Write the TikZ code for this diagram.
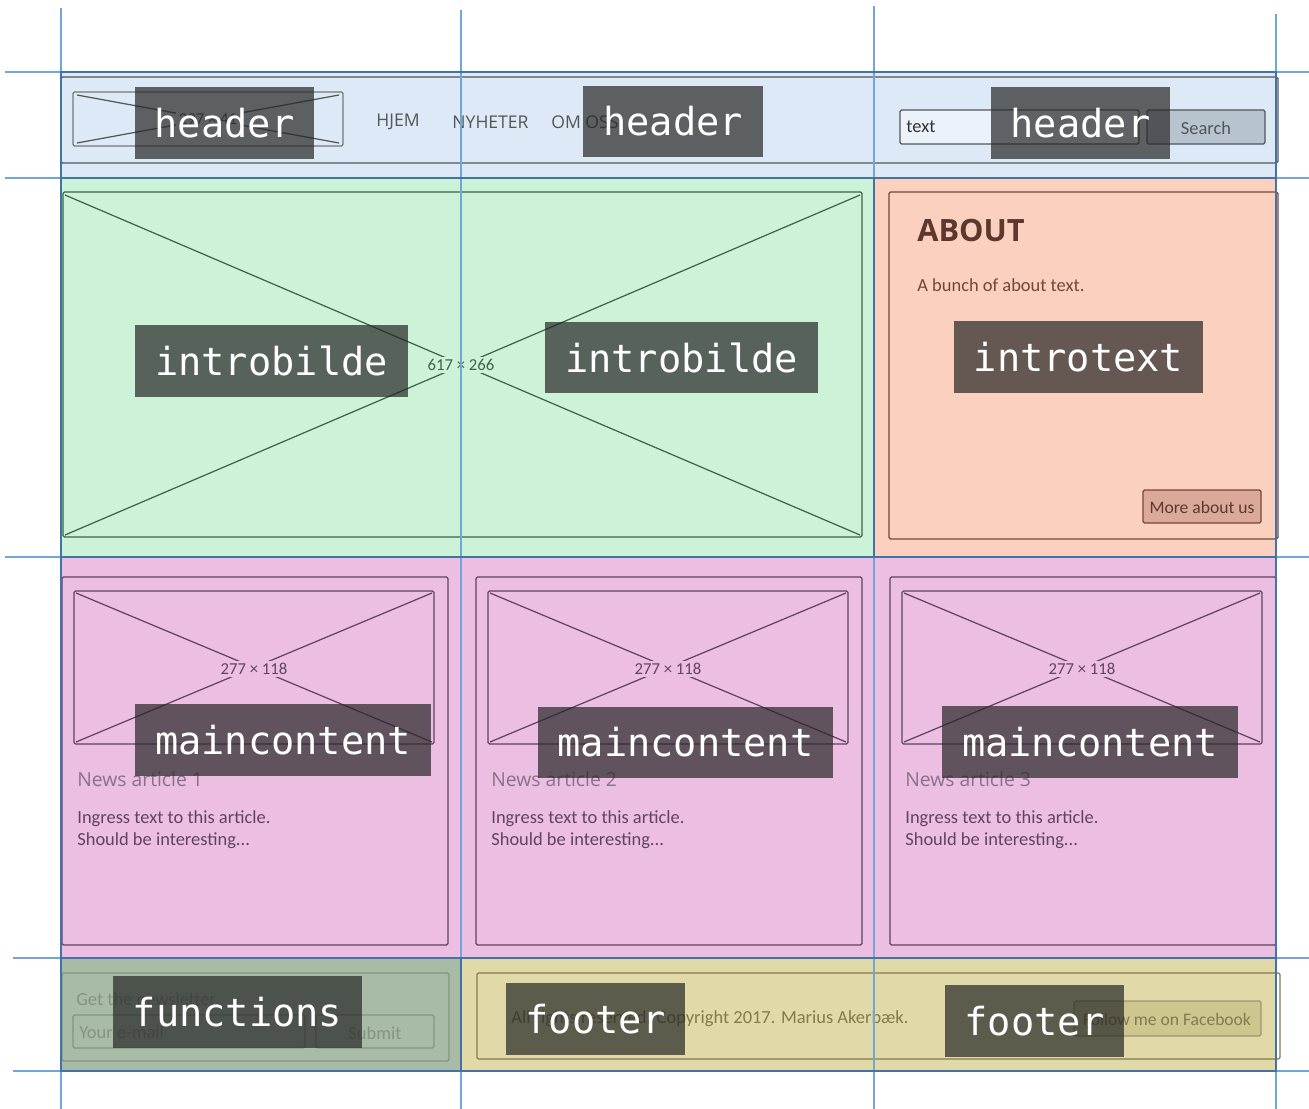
\documentclass[tikz,border=0pt]{standalone}
\usepackage{fontspec}
\usepackage{tikz}
\usetikzlibrary{positioning, calc}
\newfontfamily\uifont{Open Sans}
\newfontfamily\sketchfont{Carlito}
\newfontfamily\tagfont{DejaVu Sans Mono}
\definecolor{gridblue}{HTML}{72A5DA}
\definecolor{areablue}{HTML}{4373A6}
\definecolor{headbg}{HTML}{DDE9F6}
\definecolor{introbg}{HTML}{CCF2D8}
\definecolor{aboutbg}{HTML}{FBD0BF}
\definecolor{mainbg}{HTML}{EBBEE2}
\definecolor{funcbg}{HTML}{A8BBA6}
\definecolor{footbg}{HTML}{E1DAA8}
\definecolor{headline}{HTML}{51565A}
\definecolor{introline}{HTML}{3A6548}
\definecolor{aboutline}{HTML}{74463A}
\definecolor{mainline}{HTML}{62435E}
\definecolor{funcline}{HTML}{849482}
\definecolor{footline}{HTML}{847A4C}
\definecolor{searchbtn}{HTML}{B7C3CF}
\definecolor{aboutbtn}{HTML}{DBA999}
\definecolor{footbtn}{HTML}{CDC68F}
\tikzstyle{area} = [draw=areablue, line width=1.1pt]
\tikzstyle{gridline} = [draw=gridblue, line width=0.6pt]
\tikzstyle{sketch} = [line width=0.7pt, rounded corners=0.8pt]
\tikzstyle{tag} = [rectangle, fill=black!85, fill opacity=0.7, text opacity=1, text=white, font=\tagfont\fontsize{22}{26}\selectfont, inner xsep=0.4cm, inner ysep=0pt, minimum height=1.43cm]
\tikzstyle{navtext} = [inner sep=0pt, text=headline, font=\uifont\fontsize{10}{12}\selectfont]
\tikzstyle{handtext} = [inner sep=0pt, font=\sketchfont\fontsize{10.5}{12}\selectfont]
\tikzstyle{dimtext} = [inner sep=1.5pt, font=\sketchfont\fontsize{9.5}{11}\selectfont]

\begin{document}
\begin{tikzpicture}[x=0.02cm, y=-0.02cm]
\useasboundingbox (0,0) rectangle (1309,1109);

% areas
\fill[headbg] (61,72) rectangle (1276,178);
\fill[introbg] (61,178) rectangle (874,557);
\fill[aboutbg] (874,178) rectangle (1276,557);
\fill[mainbg] (61,557) rectangle (1276,958);
\fill[funcbg] (61,958) rectangle (461,1071);
\fill[footbg] (461,958) rectangle (1276,1071);

% header wireframe
\draw[sketch, draw=headline] (61,77) rectangle (1278,163);
\draw[sketch, draw=headline!80] (73,92) rectangle (343,146);
\draw[sketch, draw=headline] (77,95) -- (339,143) (77,143) -- (339,95);
\node (logodim) [dimtext, fill=headbg, text=headline] at (208,119) {297 × 41};
\node (hjem) [navtext] at (398,122) {HJEM};
\node (nyheter) [navtext] at (490.5,122) {NYHETER};
\node (omoss) [navtext, anchor=west] at (551,122) {OM OSS};
\draw[sketch, draw=headline, fill=white!40!headbg] (900,110) rectangle (1139,144);
\node (searchfield) [handtext, anchor=west, text=black!80] at (906,127) {text};
\draw[sketch, draw=headline, fill=searchbtn] (1147,110) rectangle (1265,144);
\node (searchbutton) [handtext, text=headline] at (1206,128) {Search};

% intro image
\draw[sketch, draw=introline] (63,192) rectangle (862,537);
\draw[sketch, draw=introline] (65,195) -- (860,535) (65,535) -- (860,195);
\node (introdim) [dimtext, fill=introbg, text=introline] at (461,365) {617 × 266};

% about
\draw[sketch, draw=aboutline] (889,192) rectangle (1278,539);
\node (abouthead) [inner sep=0pt, anchor=base west, text=aboutline!80!black, font=\uifont\bfseries\fontsize{17.5}{20}\selectfont] at (917,241) {ABOUT};
\node (abouttext) [handtext, anchor=base west, text=aboutline] at (917,291) {A bunch of about text.};
\draw[sketch, draw=aboutline, fill=aboutbtn] (1143,490) rectangle (1261,523);
\node (aboutbutton) [handtext, text=aboutline!80!black, font=\sketchfont\fontsize{10}{12}\selectfont] at (1202,507) {More about us};

% news articles
\foreach \x/\n in {62/1, 476/2, 890/3} {
  \draw[sketch, draw=mainline] (\x,577) rectangle (\x+386,945);
  \draw[sketch, draw=mainline] (\x+12,591) rectangle (\x+372,744);
  \draw[sketch, draw=mainline] (\x+14,593) -- (\x+370,742) (\x+14,742) -- (\x+370,593);
  \node (dim\n) [dimtext, fill=mainbg, text=mainline] at (\x+192,669) {277 × 118};
  \node (news\n) [inner sep=0pt, anchor=base west, text=mainline!75, font=\uifont\fontsize{11}{13}\selectfont] at (\x+15,786) {News article \n};
  \node (ingress\n) [handtext, anchor=base west, text=mainline] at (\x+15,823) {Ingress text to this article.};
  \node (should\n) [handtext, anchor=base west, text=mainline] at (\x+15,845) {Should be interesting...};
}

% newsletter
\draw[sketch, draw=funcline] (62,973) rectangle (449,1061);
\node (newsletter) [handtext, anchor=base west, text=funcline] at (76,1005) {Get the newsletter};
\draw[sketch, draw=funcline] (73,1015) rectangle (305,1048);
\node (email) [handtext, anchor=west, text=funcline] at (79,1032) {Your e-mail};
\draw[sketch, draw=funcline] (316,1015) rectangle (434,1048);
\node (submit) [handtext, text=funcline] at (375,1033) {Submit};

% footer
\draw[sketch, draw=footline] (477,973) rectangle (1280,1059);
\node (copyright) [handtext, anchor=base west, text=footline] at (511,1023) {All rights reserved. Copyright 2017. Marius Akerbæk.};
\draw[sketch, draw=footline!80, fill=footbtn] (1074,1001) rectangle (1261,1036);
\node (facebook) [handtext, text=footline, font=\sketchfont\fontsize{10}{12}\selectfont] at (1167,1019) {Follow me on Facebook};

% grid
\draw[gridline] (61,8) -- (61,1109);
\draw[gridline] (461,10) -- (461,1109);
\draw[gridline] (874,6) -- (874,1109);
\draw[gridline] (1276,14) -- (1276,1109);
\draw[gridline] (5,72) -- (1309,72);
\draw[gridline] (5,178) -- (1309,178);
\draw[gridline] (5,557) -- (1309,557);
\draw[gridline] (13,958) -- (1309,958);
\draw[gridline] (13,1071) -- (1309,1071);

% area borders
\draw[area] (61,72) rectangle (1276,178);
\draw[area] (61,178) rectangle (874,557);
\draw[area] (874,178) rectangle (1276,557);
\draw[area] (61,557) rectangle (1276,958);
\draw[area] (61,958) rectangle (461,1071);
\draw[area] (461,958) rectangle (1276,1071);

% area names
\node (hdrtagA) [tag] at (224.5,123) {header};
\node (hdrtagB) [tag] at (673,121.5) {header};
\node (hdrtagC) [tag] at (1080.5,123) {header};
\node (imgtagA) [tag] at (271.5,361) {introbilde};
\node (imgtagB) [tag] at (681.5,357.5) {introbilde};
\node (txttag) [tag] at (1078.5,357) {introtext};
\node (maintagA) [tag] at (283,740) {maincontent};
\node (maintagB) [tag] at (685.5,742.5) {maincontent};
\node (maintagC) [tag] at (1090,742) {maincontent};
\node (functag) [tag] at (237.5,1012) {functions};
\node (foottagA) [tag] at (595.5,1019) {footer};
\node (foottagB) [tag] at (1034.5,1021) {footer};
\end{tikzpicture}
\end{document}
